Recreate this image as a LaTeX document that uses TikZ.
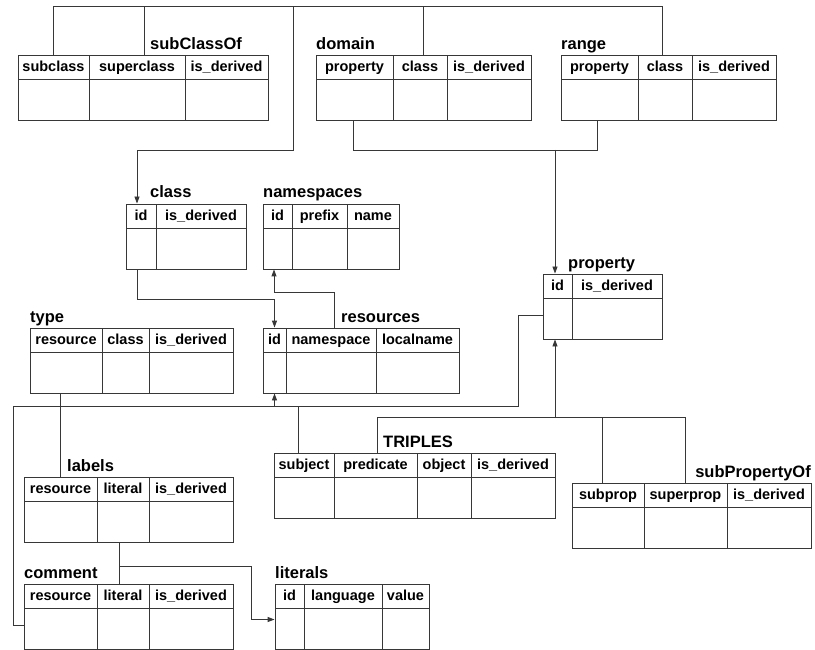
\documentclass[tikz,border=0pt]{standalone}
\usepackage{fontspec}
\setmainfont{Liberation Sans}
\usetikzlibrary{arrows.meta}

\definecolor{linegray}{RGB}{55,55,55}
\newcommand{\hdrfont}{\bfseries\fontsize{14.5}{17}\selectfont}
\newcommand{\ttlfont}{\bfseries\fontsize{16.5}{19}\selectfont}

\tikzset{
  tabline/.style={draw=linegray, line width=0.9pt},
  hcell/.style={tabline, rectangle, inner sep=0pt, minimum height=24pt,
                font=\hdrfont, text height=11pt, text depth=1.5pt},
  bcell/.style={tabline, rectangle, inner sep=0pt, minimum height=41pt},
  ttl/.style={inner sep=0pt, font=\ttlfont, anchor=base west},
  link/.style={draw=linegray, line width=0.9pt},
  fk/.style={link, -{Triangle[length=7pt,width=5pt]}},
}

% #1 table prefix, #2 top edge, #3 columns key/left/right/label
\newcommand{\dbtable}[3]{%
  \foreach \ckey/\xa/\xb/\lbl in {#3} {
    \node[hcell, minimum width={(\xb-\xa)*1pt}] (#1-\ckey) at ({(\xa+\xb)/2}, {#2+12}) {\lbl};
    \node[bcell, minimum width={(\xb-\xa)*1pt}] (#1-\ckey-b) at ({(\xa+\xb)/2}, {#2+44.5}) {};
  }%
}

\begin{document}
\begin{tikzpicture}[x=1pt, y=-1pt]
\fill[white] (0,0) rectangle (815,650);
\useasboundingbox (0,0) rectangle (815,650);

% ---------- tables ----------
\dbtable{sco}{55}{subclass/18/89/subclass, superclass/89/185/superclass, isd/185/268/is\_derived}
\node[ttl] (sco-title) at (150,50) {subClassOf};

\dbtable{dom}{55}{property/316/393/property, class/393/447/class, isd/447/531/is\_derived}
\node[ttl] (dom-title) at (316,50) {domain};

\dbtable{rng}{55}{property/561/638/property, class/638/692/class, isd/692/776/is\_derived}
\node[ttl] (rng-title) at (561,50) {range};

\dbtable{class}{204}{id/126/156/id, isd/156/246/is\_derived}
\node[ttl] (class-title) at (150,198) {class};

\dbtable{ns}{204}{id/263/292/id, prefix/292/347/prefix, name/347/399/name}
\node[ttl] (ns-title) at (263,198) {namespaces};

\dbtable{prop}{274}{id/543/572/id, isd/572/662/is\_derived}
\node[ttl] (prop-title) at (568,269) {property};

\dbtable{type}{328}{resource/30/102/resource, class/102/149/class, isd/149/233/is\_derived}
\node[ttl] (type-title) at (30,323) {type};

\dbtable{res}{328}{id/263/286/id, namespace/286/376/namespace, localname/376/459/localname}
\node[ttl] (res-title) at (341,323) {resources};

\dbtable{tr}{453}{subject/274/334/subject, predicate/334/417/predicate, object/417/471/object, isd/471/555/is\_derived}
\node[ttl] (tr-title) at (383,447) {TRIPLES};

\dbtable{spo}{483}{subprop/572/644/subprop, superprop/644/727/superprop, isd/727/811/is\_derived}
\node[ttl, anchor=base east] (spo-title) at (811,477) {subPropertyOf};

\dbtable{labels}{477}{resource/24/97/resource, literal/97/149/literal, isd/149/233/is\_derived}
\node[ttl] (labels-title) at (67,471) {labels};

\dbtable{comment}{584}{resource/24/97/resource, literal/97/149/literal, isd/149/233/is\_derived}
\node[ttl] (comment-title) at (24,578) {comment};

\dbtable{lit}{584}{id/275/304/id, language/304/382/language, value/382/429/value}
\node[ttl] (lit-title) at (275,578) {literals};

% ---------- references to class ----------
\coordinate (clsbus) at (293,7);
\coordinate (clsbend) at (293,150);
\draw[link] (sco-subclass.north) -- ++(0,-48) -| ([xshift=-3pt]rng-class.north);
\draw[link] ([xshift=7pt]sco-superclass.north) -- ++(0,-48);
\draw[link] ([xshift=3pt]dom-class.north) -- ++(0,-48);
\draw[fk] (clsbus) -- (clsbend) -| ([xshift=-4pt]class-id.north);

% ---------- domain / range to property ----------
\coordinate (propjoin) at (555,150);
\draw[link] ([xshift=-1.5pt]dom-property-b.south) -- ++(0,30) -| ([xshift=-2.5pt]rng-property-b.south);
\draw[fk] (propjoin) -- ([xshift=-2.5pt]prop-id.north);

% ---------- class and namespaces to resources ----------
\draw[fk] ([xshift=-4pt]class-id-b.south) -- ++(0,30) -| (res-id.north);
\draw[fk] ([xshift=3pt]res-namespace.north) -- ++(0,-35) -| ([xshift=-3.5pt]ns-id-b.south);

% ---------- resource references ----------
\coordinate (resbusL) at (13,406);
\coordinate (resbusR) at (518,406);
\draw[link] ([yshift=3pt]comment-resource-b.west) -| (resbusL) -- (resbusR) |- ([yshift=3.5pt]prop-id-b.west);
\draw[fk] (res-id-b.south |- resbusL) -- (res-id-b.south);
\draw[link] ([xshift=-6pt]tr-subject.north) -- ++(0,-47);
\draw[link] (type-resource-b.south -| labels-resource.north) -- (labels-resource.north);

% ---------- property references ----------
\coordinate (propbus) at (555,418);
\draw[link] ([xshift=1.5pt]tr-predicate.north) -- ++(0,-35) -| (spo-superprop.north);
\draw[link] ([xshift=-6pt]spo-subprop.north) -- ++(0,-65);
\draw[fk] (propbus) -- (propbus |- prop-id-b.south);

% ---------- literal references ----------
\coordinate (litjoin) at (119,566);
\coordinate (litbend) at (251,566);
\draw[link] ([xshift=-4pt]labels-literal-b.south) -- ([xshift=-4pt]comment-literal.north);
\draw[fk] (litjoin) -- (litbend) |- ([yshift=9pt]lit-id-b.west);

\end{tikzpicture}
\end{document}
